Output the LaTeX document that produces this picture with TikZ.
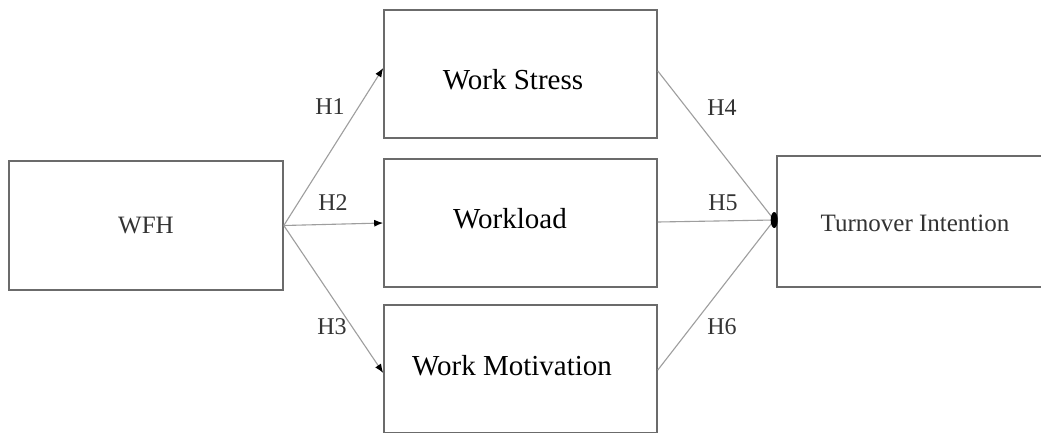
\documentclass[tikz,border=0pt]{standalone}
\usepackage{fontspec}
\setmainfont{Liberation Serif}
\usetikzlibrary{arrows.meta}
\definecolor{boxline}{gray}{0.42}
\definecolor{linkline}{gray}{0.62}
\definecolor{softtext}{gray}{0.2}
\begin{document}
\begin{tikzpicture}[x=1pt,y=-1pt,
  boxnode/.style={draw=boxline, line width=1.6pt, fill=white, inner sep=0pt, anchor=center},
  bigtext/.style={font=\fontsize{29}{34}\selectfont, text=black},
  smalltext/.style={font=\fontsize{25}{30}\selectfont, text=softtext},
  hlabel/.style={font=\fontsize{24}{28}\selectfont, text=softtext, inner sep=0pt},
  link/.style={draw=linkline, line width=1.1pt},
  arrowlink/.style={link, -{Latex[length=9pt,width=7pt,color=black]}}
]
\useasboundingbox (0,0) rectangle (1041,432);
\clip (0,0) rectangle (1041,432);
\fill[white] (0,0) rectangle (1041,432);

\node[boxnode, smalltext, minimum width=274pt, minimum height=129pt] (wfh) at (146,225.5) {WFH};
\node[boxnode, minimum width=273pt, minimum height=128pt] (ws) at (520.5,74) {};
\node[bigtext, inner sep=0pt] (wst) at (513,80) {Work Stress};
\node[boxnode, minimum width=273pt, minimum height=128pt] (wl) at (520.5,223) {};
\node[bigtext, inner sep=0pt] (wlt) at (510,219) {Workload};
\node[boxnode, minimum width=273pt, minimum height=128pt] (wm) at (520.5,369) {};
\node[bigtext, inner sep=0pt] (wmt) at (512,366) {Work Motivation};
\node[boxnode, minimum width=276pt, minimum height=131pt] (ti) at (915,221.5) {};
\node[smalltext, inner sep=0pt] (tit) at (915,223) {Turnover Intention};

\coordinate (src) at (wfh.east);
\coordinate (wsin) at ([yshift=6pt]ws.west);
\coordinate (wlin) at (wl.west);
\coordinate (wmin) at ([yshift=-4pt]wm.west);
\coordinate (wsout) at ([yshift=3pt]ws.east);
\coordinate (wlout) at ([yshift=1pt]wl.east);
\coordinate (wmout) at ([yshift=-1pt]wm.east);
\coordinate (tiin) at ([xshift=-2pt,yshift=1.5pt]ti.west);

\draw[arrowlink] (src) -- (wsin);
\draw[arrowlink] (src) -- (wlin);
\draw[arrowlink] (src) -- (wmin);
\draw[link] (wsout) -- (tiin);
\draw[link] (wlout) -- (tiin);
\draw[link] (wmout) -- (tiin);
\fill[black] (tiin) ellipse [x radius=3.5pt, y radius=8pt];

\node[hlabel] (h1) at (330,107) {H1};
\node[hlabel] (h2) at (333,203) {H2};
\node[hlabel] (h3) at (332,327) {H3};
\node[hlabel] (h4) at (722,108) {H4};
\node[hlabel] (h5) at (723,203) {H5};
\node[hlabel] (h6) at (722,327) {H6};
\end{tikzpicture}
\end{document}
